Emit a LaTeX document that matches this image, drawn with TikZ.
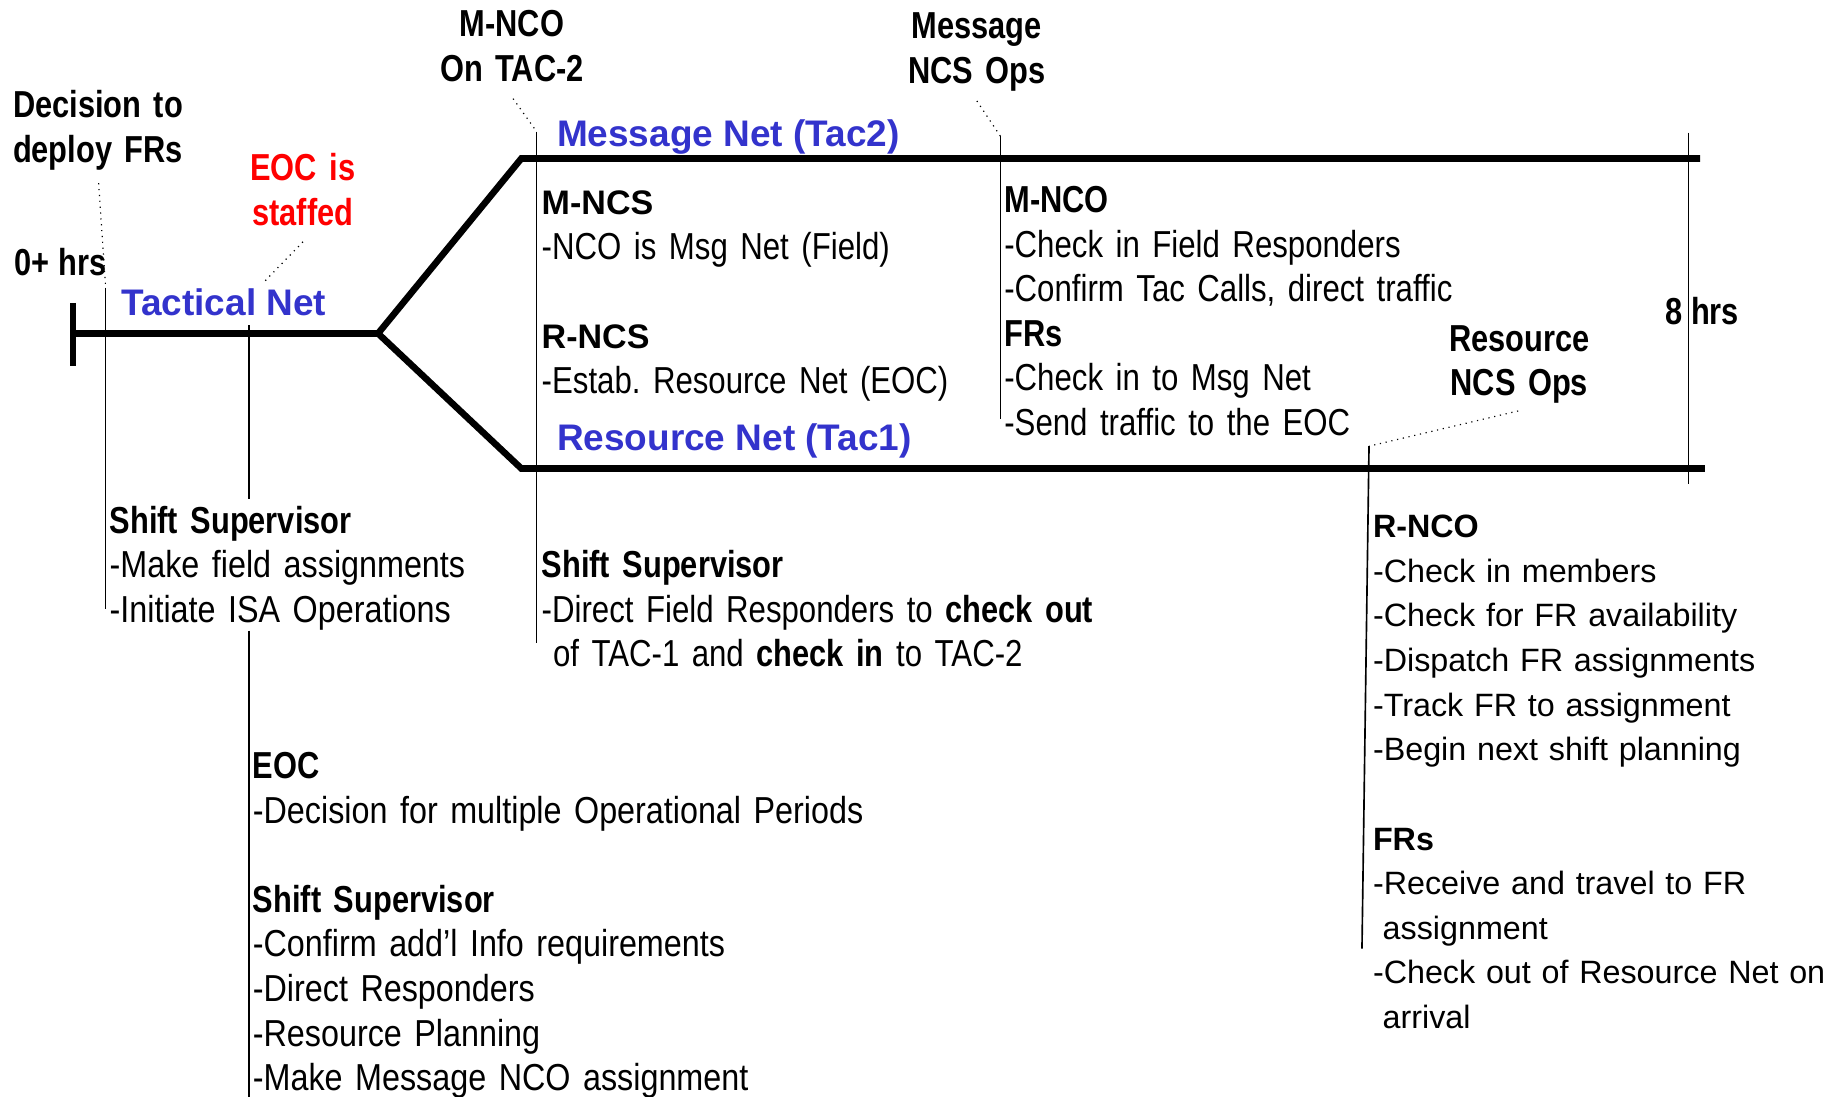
\documentclass[tikz,border=0pt]{standalone}
\usepackage{fontspec}
\setmainfont{Liberation Sans}
\newfontfamily\condrm{Liberation Sans}[FakeStretch=0.86]
\newfontfamily\condnr{Liberation Sans}[FakeStretch=0.83]
\newfontfamily\condbf{Liberation Sans}[FakeStretch=0.82]
\definecolor{netblue}{RGB}{51,51,204}
\frenchspacing

\newcommand{\cbf}[1]{{\condbf\bfseries #1}}
\newcommand{\wbf}[1]{{\rmfamily\bfseries #1}}

\tikzstyle{net} = [line width=2.8pt, line join=miter]
\tikzstyle{rule} = [line width=0.7pt]
\tikzstyle{leader} = [line width=0.5pt, dotted]
\tikzstyle{netname} = [anchor=base west, inner sep=0pt, text=netblue, font=\fontsize{15.75}{19}\selectfont\bfseries]
\tikzstyle{calltext} = [anchor=base, inner sep=0pt, text width=160pt, align=center, font=\fontsize{16}{19}\condbf\bfseries]
\tikzstyle{block} = [anchor=base west, inner sep=0pt, text width=300pt, align=left, font=\fontsize{16}{19}\condrm]
\tikzstyle{narrowblock} = [block, font=\fontsize{16}{19}\condnr]
\tikzstyle{wideblock} = [anchor=base west, inner sep=0pt, text width=220pt, align=left, font=\fontsize{13.75}{19}\selectfont]

\begin{document}
\begin{tikzpicture}[x=0.5pt, y=-0.5pt]
\useasboundingbox (0,0) rectangle (1568,934);

% the nets
\coordinate (barT) at (62,258);
\coordinate (barB) at (62,312);
\coordinate (start) at (62,284);
\coordinate (fork) at (322,284);
\coordinate (msgA) at (444,135);
\coordinate (msgB) at (1448,135);
\coordinate (resA) at (444,399);
\coordinate (resB) at (1452,399);
\draw[net] (barT) -- (barB);
\draw[net] (start) -- (fork) -- (msgA) -- (msgB);
\draw[net] (start) -- (fork) -- (resA) -- (resB);

\node[netname] (tac) at (103,269) {Tactical Net};
\node[netname] (msgnet) at (474,125) {Message Net (Tac2)};
\node[netname] (resnet) at (474,384) {Resource Net (Tac1)};

% call outs
\node[calltext] (decide) at (83.5,100) {Decision to\\deploy FRs};
\node[calltext, anchor=base west, text width=] (zero) at (12,235) {0+ hrs};
\node[calltext, text=red] (staffed) at (258,154) {EOC is\\staffed};
\node[calltext] (ontac) at (436,31) {M-NCO\\On TAC-2};
\node[calltext] (msgops) at (832,33) {Message\\NCS Ops};
\node[calltext] (resops) at (1294,299) {Resource\\NCS Ops};
\node[calltext, anchor=base west, text width=] (eight) at (1418,276) {8 hrs};

% time marks
\coordinate (decA) at (84,156);
\coordinate (decB) at (90,245);
\coordinate (decC) at (90,519);
\coordinate (eocA) at (258,206);
\coordinate (eocB) at (225,240);
\coordinate (ssA) at (212,277);
\coordinate (ssB) at (212,425);
\coordinate (ssC) at (212,537);
\coordinate (ssD) at (212,934);
\coordinate (tacA) at (437,84);
\coordinate (tacB) at (457,112);
\coordinate (tacC) at (457,548);
\coordinate (ncsA) at (832,86);
\coordinate (ncsB) at (852,116);
\coordinate (ncsC) at (852,357);
\coordinate (hrsA) at (1438,113);
\coordinate (hrsB) at (1438,412);
\coordinate (rncA) at (1293,350);
\coordinate (rncB) at (1166,380);
\coordinate (rncC) at (1160,808);

\draw[leader] (decA) -- (decB);
\draw[rule] (decB) -- (decC);
\draw[leader] (eocA) -- (eocB);
\draw[rule] (ssA) -- (ssB);
\draw[rule] (ssC) -- (ssD);
\draw[leader] (tacA) -- (tacB);
\draw[rule] (tacB) -- (tacC);
\draw[leader] (ncsA) -- (ncsB);
\draw[rule] (ncsB) -- (ncsC);
\draw[rule] (hrsA) -- (hrsB);
\draw[leader] (rncA) -- (rncB);
\draw[rule] (rncB) -- (rncC);

% tasks
\node[block] (ssup) at (93,454) {\cbf{Shift Supervisor}\\-Make field assignments\\-Initiate ISA Operations};
\node[narrowblock] (mncs) at (461,183) {{\fontsize{14.5}{19}\selectfont\wbf{M-NCS}}\\-NCO is Msg Net (Field)\\[19pt]{\fontsize{14.5}{19}\selectfont\wbf{R-NCS}}\\-Estab. Resource Net (EOC)};
\node[narrowblock] (ssupm) at (461,492) {\cbf{Shift Supervisor}\\-Direct Field Responders to \cbf{check out}\\\hspace*{0.3em}of TAC-1 and \cbf{check in} to TAC-2};
\node[narrowblock] (mnco) at (855,181) {\cbf{M-NCO}\\-Check in Field Responders\\-Confirm Tac Calls, direct traffic\\\cbf{FRs}\\-Check in to Msg Net\\-Send traffic to the EOC};
\node[block] (eoc) at (215,663) {\cbf{EOC}\\-Decision for multiple Operational Periods\\[19pt]\cbf{Shift Supervisor}\\-Confirm add’l Info requirements\\-Direct Responders\\-Resource Planning\\-Make Message NCO assignment};
\node[wideblock] (rnco) at (1169,458) {\wbf{R-NCO}\\-Check in members\\-Check for FR availability\\-Dispatch FR assignments\\-Track FR to assignment\\-Begin next shift planning\\[19pt]\wbf{FRs}\\-Receive and travel to FR\\\hspace*{0.3em}assignment\\-Check out of Resource Net on\\\hspace*{0.3em}arrival};
\end{tikzpicture}
\end{document}
